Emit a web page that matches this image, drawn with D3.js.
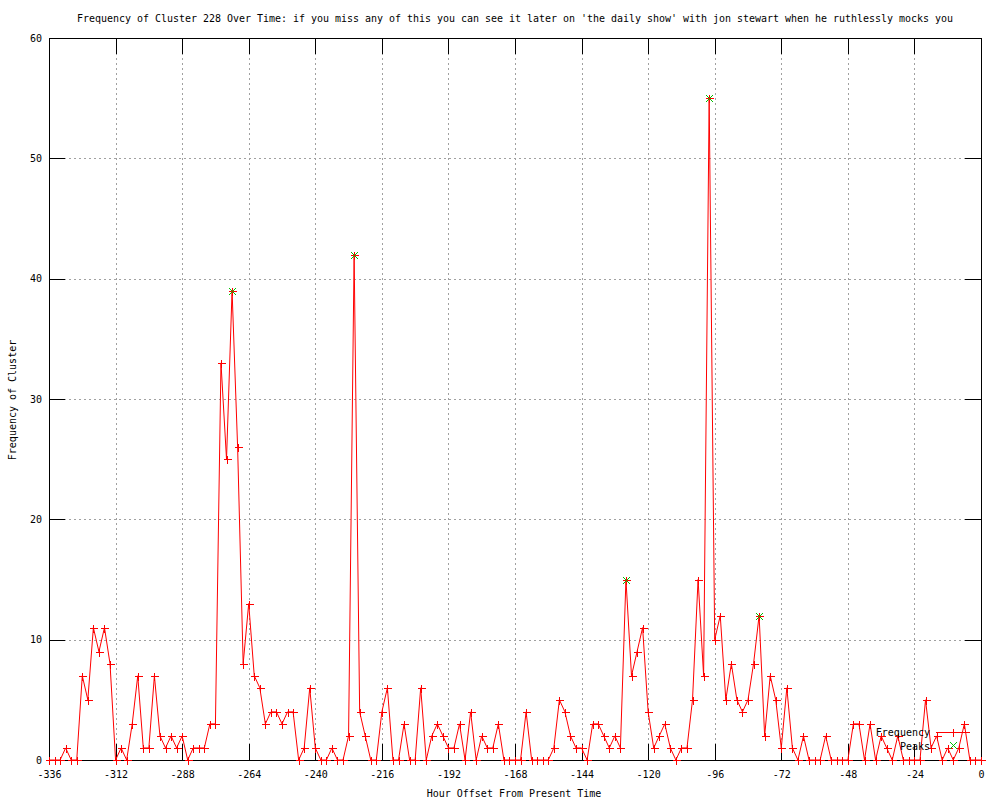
<!DOCTYPE html>
<html>
<head>
<meta charset="utf-8">
<script src="https://cdn.jsdelivr.net/npm/d3@7"></script>
<style>
  html, body { margin: 0; padding: 0; background: #fff; }
  svg text { font-family: "DejaVu Sans Mono", "Liberation Mono", monospace; font-size: 10px; fill: #000; }
</style>
</head>
<body>
<svg id="chart" width="1000" height="800"></svg>
<script>
// ---- data ----
const titleText = "Frequency of Cluster 228 Over Time: if you miss any of this you can see it later on 'the daily show' with jon stewart when he ruthlessly mocks you";
const xTitle = "Hour Offset From Present Time";
const yTitle = "Frequency of Cluster";
const seriesNames = ["Frequency", "Peaks"];
// hour offsets, every 2 hours from -336 to 0
const hours = d3.range(-336, 1, 2);
const frequency = [
  0,0,0,1,0,0,7,5,11,9,11,8,
  0,1,0,3,7,1,1,7,2,1,2,1,
  2,0,1,1,1,3,3,33,25,39,26,8,
  13,7,6,3,4,4,3,4,4,0,1,6,
  1,0,0,1,0,0,2,42,4,2,0,0,
  4,6,0,0,3,0,0,6,0,2,3,2,
  1,1,3,0,4,0,2,1,1,3,0,0,
  0,0,4,0,0,0,0,1,5,4,2,1,
  1,0,3,3,2,1,2,1,15,7,9,11,
  4,1,2,3,1,0,1,1,5,15,7,55,
  10,12,5,8,5,4,5,8,12,2,7,5,
  1,6,1,0,2,0,0,0,2,0,0,0,
  0,3,3,0,3,0,2,1,0,2,0,0,
  0,0,5,1,2,0,1,0,1,3,0,0,
  0
];
const peakHours = [-270, -226, -128, -98, -80];
const peakValues = [39, 42, 15, 55, 12];
const xTickValues = [-336,-312,-288,-264,-240,-216,-192,-168,-144,-120,-96,-72,-48,-24,0];
const yTickValues = [0,10,20,30,40,50,60];

// ---- layout ----
const L = 49, R = 981, T = 38, B = 760;
const svg = d3.select("#chart");
const x = d3.scaleLinear().domain([-336, 0]).range([L, R]);
const y = d3.scaleLinear().domain([0, 60]).range([B, T]);
const red = "#ff0000", green = "#00c000", gridCol = "#a0a0a0";
const tickLen = 16;

// grid
const grid = svg.append("g").attr("shape-rendering", "crispEdges");
grid.selectAll("line.gx").data(xTickValues.filter(v => v > -336 && v < 0)).enter()
  .append("line").attr("x1", d => Math.round(x(d)) + 0.5).attr("x2", d => Math.round(x(d)) + 0.5)
  .attr("y1", T).attr("y2", B)
  .attr("stroke", gridCol).attr("stroke-dasharray", "2,3");
grid.selectAll("line.gy").data(yTickValues.filter(v => v > 0 && v < 60)).enter()
  .append("line").attr("y1", d => Math.round(y(d)) + 0.5).attr("y2", d => Math.round(y(d)) + 0.5)
  .attr("x1", L).attr("x2", R)
  .attr("stroke", gridCol).attr("stroke-dasharray", "2,3");

// blank key area (gnuplot clears the key box region)
svg.append("rect").attr("x", 874).attr("y", 727).attr("width", 100).attr("height", 26).attr("fill", "#fff");

// axes ticks (using d3 axes, inward, mirrored)
function styleAxis(g) {
  g.selectAll(".domain").remove();
  g.selectAll("line").attr("stroke", "#000");
  g.attr("shape-rendering", "crispEdges");
}
const xAxisB = d3.axisBottom(x).tickValues(xTickValues).tickSize(-tickLen).tickPadding(11)
  .tickFormat(d => String(d).replace("\u2212", "-"));
svg.append("g").attr("transform", `translate(0,${B})`).call(xAxisB).call(styleAxis)
  .call(g => g.selectAll("text").attr("font-family", "DejaVu Sans Mono").attr("font-size", 10).attr("fill", "#000"));
const xAxisT = d3.axisTop(x).tickValues(xTickValues).tickSize(-tickLen).tickFormat("");
svg.append("g").attr("transform", `translate(0,${T})`).call(xAxisT).call(styleAxis);
const yAxisL = d3.axisLeft(y).tickValues(yTickValues).tickSize(-tickLen).tickPadding(7)
  .tickFormat(d3.format("d"));
svg.append("g").attr("transform", `translate(${L},0)`).call(yAxisL).call(styleAxis)
  .call(g => g.selectAll("text").attr("font-family", "DejaVu Sans Mono").attr("font-size", 10).attr("fill", "#000"));
const yAxisR = d3.axisRight(y).tickValues(yTickValues).tickSize(-tickLen).tickFormat("");
svg.append("g").attr("transform", `translate(${R},0)`).call(yAxisR).call(styleAxis);

// border
svg.append("rect").attr("x", L + 0.5).attr("y", T + 0.5).attr("width", R - L).attr("height", B - T)
  .attr("fill", "none").attr("stroke", "#000").attr("shape-rendering", "crispEdges");

// data line
const pts = hours.map((h, i) => [h, frequency[i]]);
svg.append("path").datum(pts)
  .attr("d", d3.line().x(d => x(d[0])).y(d => y(d[1])))
  .attr("fill", "none").attr("stroke", red).attr("stroke-width", 1);

// plus markers
const ps = 4;
function plus(sel, cx, cy, col) {
  sel.append("path").attr("d", `M${cx - ps},${cy}H${cx + ps}M${cx},${cy - ps}V${cy + ps}`)
    .attr("stroke", col).attr("stroke-width", 1).attr("fill", "none").attr("shape-rendering", "crispEdges");
}
function cross(sel, cx, cy, col) {
  const s = 3.5;
  sel.append("path").attr("d", `M${cx - s},${cy - s}L${cx + s},${cy + s}M${cx - s},${cy + s}L${cx + s},${cy - s}`)
    .attr("stroke", col).attr("stroke-width", 1).attr("fill", "none");
}
const mk = svg.append("g");
pts.forEach(d => plus(mk, Math.round(x(d[0])) + 0.5, Math.round(y(d[1])) + 0.5, red));

// peaks
const pk = svg.append("g");
peakHours.forEach((h, i) => cross(pk, Math.round(x(h)) + 0.5, Math.round(y(peakValues[i])) + 0.5, green));

// key
const key = svg.append("g");
key.append("text").attr("x", 930).attr("y", 736).attr("text-anchor", "end").text(seriesNames[0]);
key.append("line").attr("x1", 936).attr("x2", 970).attr("y1", 732.5).attr("y2", 732.5)
  .attr("stroke", red).attr("shape-rendering", "crispEdges");
plus(key, 953.5, 732.5, red);
key.append("text").attr("x", 930).attr("y", 750).attr("text-anchor", "end").text(seriesNames[1]);
cross(key, 953.5, 745.5, green);

// titles
svg.append("text").attr("x", 515).attr("y", 22).attr("text-anchor", "middle")
  .attr("textLength", 876).attr("lengthAdjust", "spacingAndGlyphs").text(titleText);
svg.append("text").attr("x", 514).attr("y", 797).attr("text-anchor", "middle").text(xTitle);
svg.append("text").attr("transform", "translate(16,400) rotate(-90)").attr("text-anchor", "middle").text(yTitle);
</script>
</body>
</html>
